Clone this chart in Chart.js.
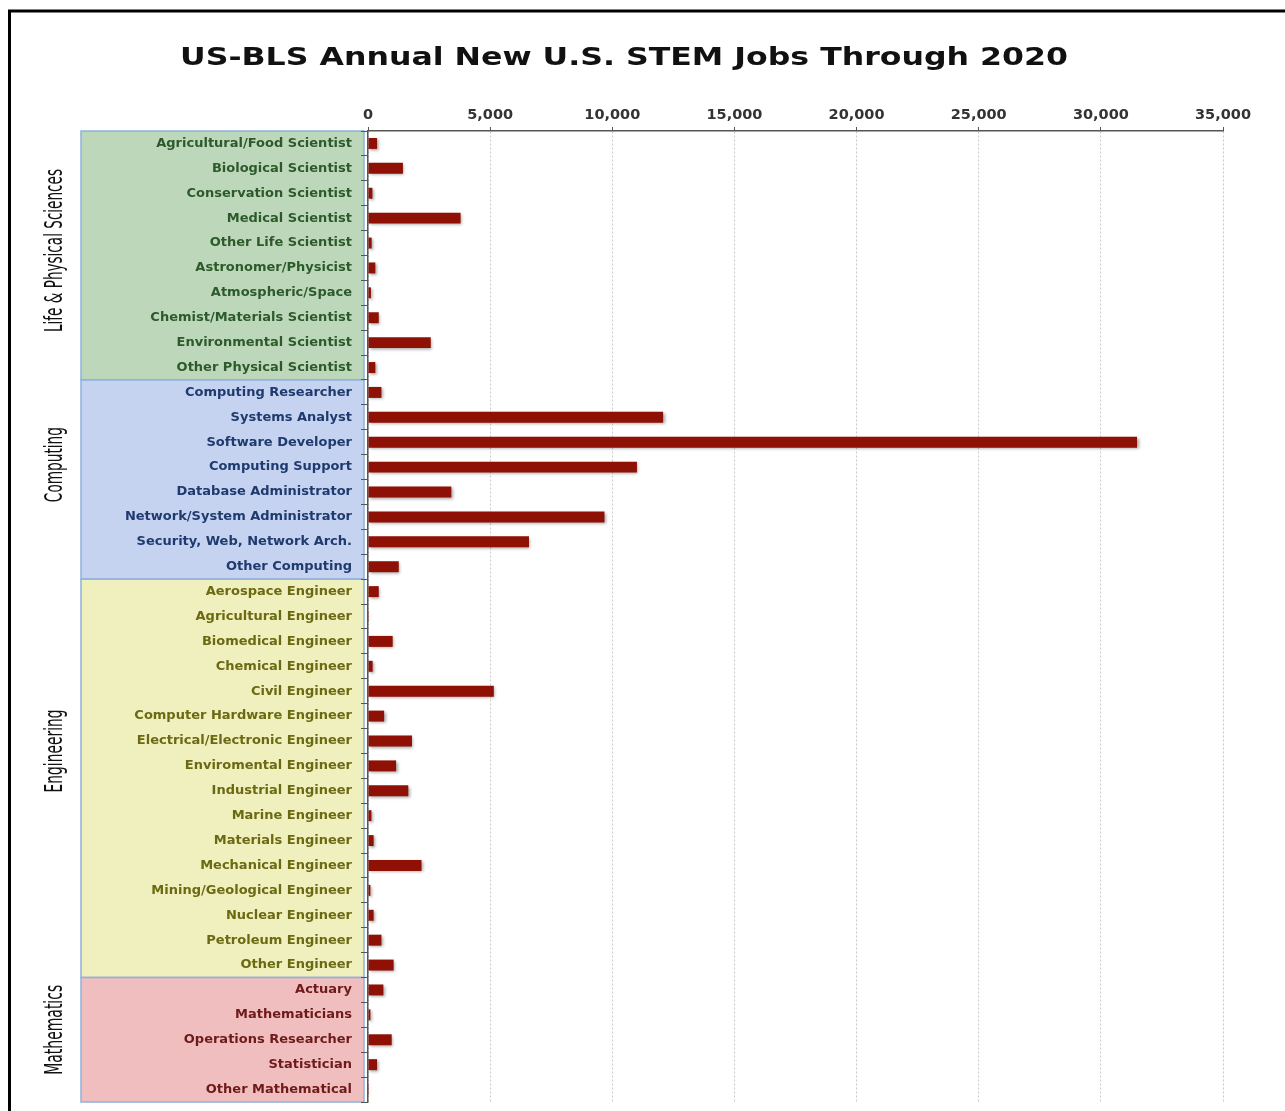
<!DOCTYPE html>
<html><head><meta charset="utf-8">
<script src="https://cdn.jsdelivr.net/npm/chart.js@4/dist/chart.umd.min.js"></script>
<style>html,body{margin:0;padding:0;background:#fff;}</style>
</head><body>
<canvas id="c" width="1285" height="1111"></canvas>
<script>
const chartTitle = "US-BLS Annual New U.S. STEM Jobs Through 2020";
const categories = [
  "Agricultural/Food Scientist","Biological Scientist","Conservation Scientist","Medical Scientist",
  "Other Life Scientist","Astronomer/Physicist","Atmospheric/Space","Chemist/Materials Scientist",
  "Environmental Scientist","Other Physical Scientist",
  "Computing Researcher","Systems Analyst","Software Developer","Computing Support",
  "Database Administrator","Network/System Administrator","Security, Web, Network Arch.","Other Computing",
  "Aerospace Engineer","Agricultural Engineer","Biomedical Engineer","Chemical Engineer","Civil Engineer",
  "Computer Hardware Engineer","Electrical/Electronic Engineer","Enviromental Engineer","Industrial Engineer",
  "Marine Engineer","Materials Engineer","Mechanical Engineer","Mining/Geological Engineer","Nuclear Engineer",
  "Petroleum Engineer","Other Engineer",
  "Actuary","Mathematicians","Operations Researcher","Statistician","Other Mathematical"
];
const jobs = [
  370,1430,180,3790,150,300,120,440,2570,300,
  550,12080,31480,11010,3410,9680,6590,1260,
  440,30,1010,190,5150,660,1800,1150,1650,140,230,2190,100,230,550,1050,
  630,100,970,370,30
];
const groupNames = ["Life & Physical Sciences","Computing","Engineering","Mathematics"];
const groupSizes = [10,8,16,5];
const xTicks = [0,5000,10000,15000,20000,25000,30000,35000];

// styles
const groupFill = ["#bdd7bb","#c5d2f0","#f0efbe","#f0bebe"];
const groupText = ["#2d5a2a","#1f3a6e","#6b6a12","#6e1a1a"];
const groupLabelAt = [4.3, 12.9, 24.4, 35.6];
const groupLabelLen = [163, 75, 83, 90];

const groupOf = [];
groupSizes.forEach((n,g)=>{ for(let i=0;i<n;i++) groupOf.push(g); });
const fmt = v => String(Math.round(v)).replace(/\B(?=(\d{3})+(?!\d))/g, ',');

const decor = {
  id:'decor',
  beforeDraw(chart){
    const ctx = chart.ctx, y = chart.scales.y;
    ctx.save();
    ctx.fillStyle = '#fff';
    ctx.fillRect(0,0,chart.width,chart.height);
    const x0 = 81, x1 = chart.chartArea.left - 4;
    let start = 0;
    groupSizes.forEach((n,g)=>{
      const t = y.getPixelForValue(start-0.5), b = y.getPixelForValue(start+n-0.5);
      ctx.fillStyle = groupFill[g];
      ctx.fillRect(x0,t,x1-x0,b-t);
      ctx.strokeStyle = '#8fb1db';
      ctx.lineWidth = 1.5;
      ctx.strokeRect(x0,t,x1-x0,b-t);
      start += n;
    });
    ctx.restore();
  },
  beforeDatasetsDraw(chart){
    const ctx = chart.ctx;
    ctx.save();
    ctx.shadowColor = 'rgba(0,0,0,0.35)';
    ctx.shadowBlur = 3;
    ctx.shadowOffsetX = 1.5;
    ctx.shadowOffsetY = 1.5;
  },
  afterDatasetsDraw(chart){ chart.ctx.restore(); },
  afterDraw(chart){
    const ctx = chart.ctx, y = chart.scales.y;
    ctx.save();
    ctx.strokeStyle = '#000'; ctx.lineWidth = 3;
    ctx.beginPath(); ctx.moveTo(9.5,1111); ctx.lineTo(9.5,11); ctx.lineTo(1285,11); ctx.stroke();
    ctx.fillStyle = '#111';
    ctx.font = 'bold 25px "DejaVu Sans"';
    ctx.textAlign = 'center'; ctx.textBaseline = 'alphabetic';
    const w = ctx.measureText(chartTitle).width;
    ctx.save(); ctx.translate(624,65); ctx.scale(888/w,1); ctx.fillText(chartTitle,0,0); ctx.restore();
    groupNames.forEach((name,g)=>{
      const cy = y.getPixelForValue(groupLabelAt[g]);
      ctx.save();
      ctx.font = '20px "Liberation Sans Narrow","DejaVu Sans Condensed"';
      const m = ctx.measureText(name).width;
      ctx.translate(55,cy); ctx.rotate(-Math.PI/2);
      ctx.scale(groupLabelLen[g]/m,1.25);
      ctx.fillStyle = '#111'; ctx.textAlign='center'; ctx.textBaseline='middle';
      ctx.fillText(name,0,0);
      ctx.restore();
    });
    ctx.restore();
  }
};

new Chart(document.getElementById('c'), {
  type:'bar',
  data:{ labels:categories, datasets:[{ data:jobs, backgroundColor:'#8f1004', borderWidth:0, barPercentage:0.44, categoryPercentage:1 }]},
  options:{
    indexAxis:'y', responsive:false, animation:false, devicePixelRatio:1,
    layout:{ padding:{ left:0, top:0, right:62, bottom:9 } },
    plugins:{ legend:{display:false}, title:{display:false}, tooltip:{enabled:false} },
    scales:{
      x:{
        position:'top', min:0, max:35000,
        afterFit(s){ s.height = 131; s.paddingLeft = 0; s.paddingRight = 0; },
        afterBuildTicks(s){ s.ticks = xTicks.map(v=>({value:v})); },
        ticks:{ color:'#333', padding:3, font:{family:'"DejaVu Sans"', size:14.5, weight:'bold'},
          callback:v=>fmt(v) },
        grid:{ color:'#c9c9c9', lineWidth:1, tickLength:4, tickColor:'#555', tickBorderDash:[], drawTicks:true },
        border:{ display:true, color:'#555', width:1.5, dash:[2,2] }
      },
      y:{
        afterFit(s){ s.width = 368; s.paddingTop = 0; s.paddingBottom = 0; },
        ticks:{ padding:9, autoSkip:false, font:{family:'"DejaVu Sans"', size:13, weight:'bold'},
          color:c=>groupText[groupOf[c.index]] },
        grid:{ offset:true, drawOnChartArea:false, drawTicks:true, tickLength:7, tickColor:'#555', color:'#555' },
        border:{ display:true, color:'#555', width:1.5 }
      }
    }
  },
  plugins:[decor]
});
</script>
</body></html>
